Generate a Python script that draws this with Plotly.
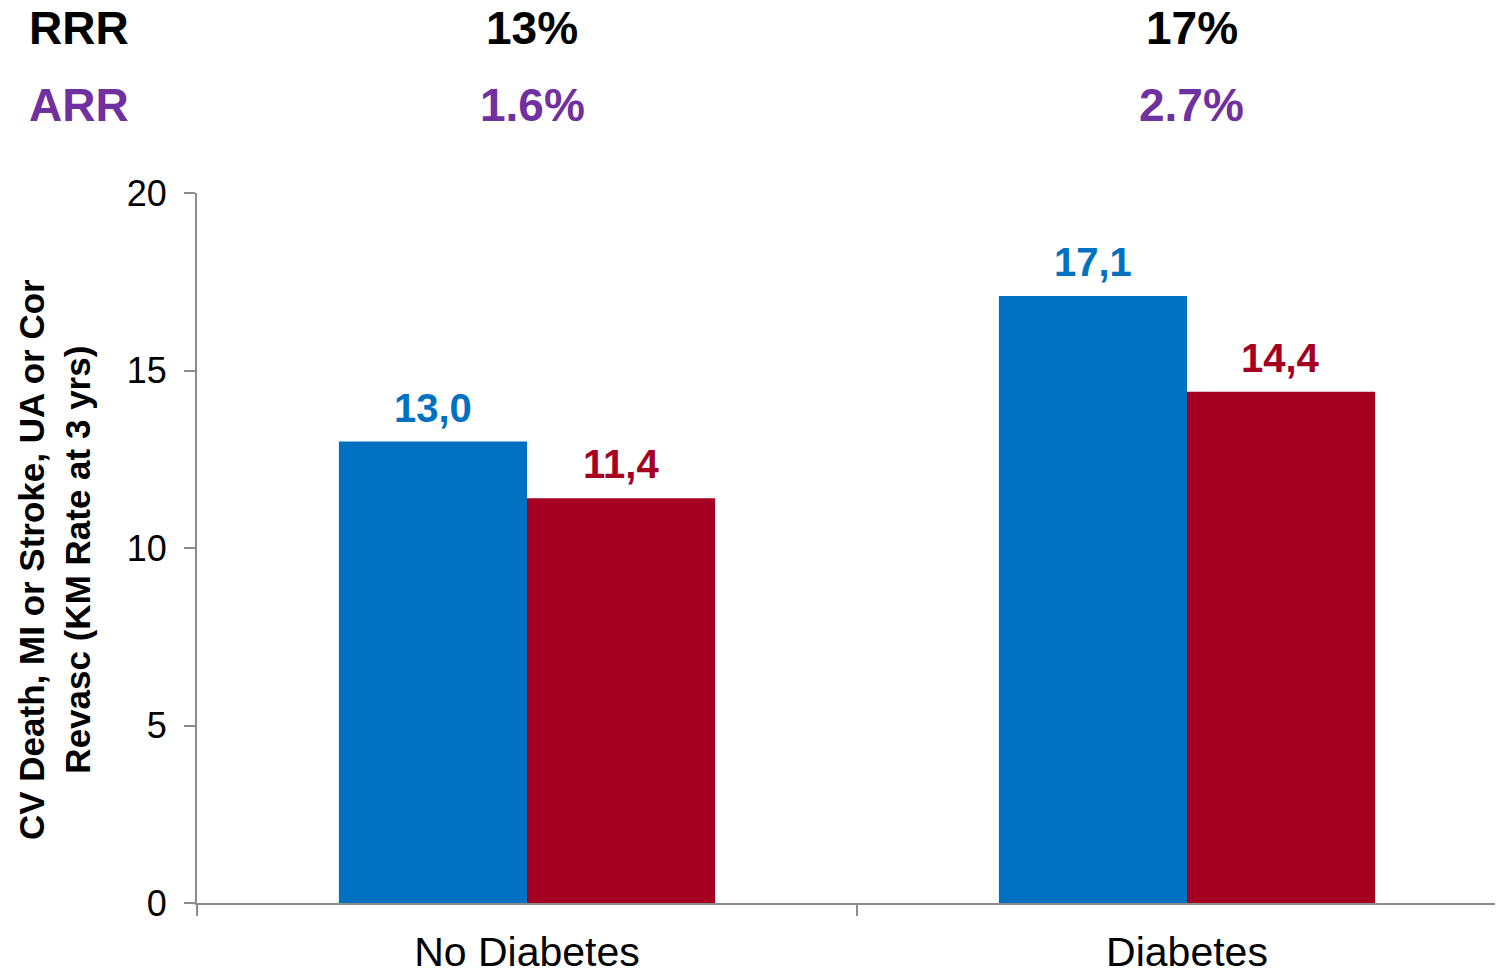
import plotly.graph_objects as go

categories = ["No Diabetes", "Diabetes"]
placebo = [13.0, 17.1]
treated = [11.4, 14.4]
rrr = ["13%", "17%"]
arr = ["1.6%", "2.7%"]
y_ticks = [0, 5, 10, 15, 20]

BLUE = "#0070C0"
RED = "#A50021"
PURPLE = "#7030A0"
GRAY = "#8C8C8C"
NARROW = "Liberation Sans Narrow, Arial Narrow, Liberation Sans, Arial"
SANS = "Liberation Sans, Arial, sans-serif"

fig = go.Figure()
fig.add_trace(go.Bar(x=categories, y=placebo, marker=dict(color=BLUE, line=dict(width=0)),
                     name="Placebo", showlegend=False))
fig.add_trace(go.Bar(x=categories, y=treated, marker=dict(color=RED, line=dict(width=0)),
                     name="Treatment", showlegend=False))

def fmt(v):
    return f"{v:.1f}".replace(".", ",")

for c, v in zip(categories, placebo):
    fig.add_annotation(x=c, y=v, text=fmt(v), showarrow=False, xshift=-94, yanchor="bottom",
                       yshift=10, font=dict(family=NARROW, size=40, color=BLUE, weight="bold"))
for c, v in zip(categories, treated):
    fig.add_annotation(x=c, y=v, text=fmt(v), showarrow=False, xshift=94, yanchor="bottom",
                       yshift=10, font=dict(family=NARROW, size=40, color=RED, weight="bold"))

for c, t in zip(categories, rrr):
    fig.add_annotation(x=c, y=1.232, yref="paper", text=t, showarrow=False, xshift=5,
                       yanchor="middle", font=dict(family=SANS, size=46, color="black", weight="bold"))
for c, t in zip(categories, arr):
    fig.add_annotation(x=c, y=1.124, yref="paper", text=t, showarrow=False, xshift=5,
                       yanchor="middle", font=dict(family=SANS, size=46, color=PURPLE, weight="bold"))

fig.add_annotation(x=0, xref="paper", y=1.232, yref="paper", text="RRR", showarrow=False,
                   xanchor="left", xshift=-170, yanchor="middle",
                   font=dict(family=SANS, size=46, color="black", weight="bold"))
fig.add_annotation(x=0, xref="paper", y=1.124, yref="paper", text="ARR", showarrow=False,
                   xanchor="left", xshift=-170, yanchor="middle",
                   font=dict(family=SANS, size=46, color=PURPLE, weight="bold"))

fig.add_annotation(x=0, xref="paper", y=0.5, yref="paper",
                   text="CV Death, MI or Stroke, UA or Cor<br>Revasc (KM Rate at 3 yrs)",
                   showarrow=False, textangle=-90, xanchor="center", yanchor="middle",
                   xshift=-143, yshift=-12,
                   font=dict(family=SANS, size=35, color="black", weight="bold"))

# page body has an 8px margin, so the figure is sized to end at the window edge
fig.update_layout(
    width=1495, height=958,
    margin=dict(l=189, r=0, t=185, b=63, pad=0),
    paper_bgcolor="white", plot_bgcolor="white",
    barmode="group", bargap=0.43, bargroupgap=0,
    xaxis=dict(type="category", range=[-0.5, 1.4788], showline=True, linecolor=GRAY, linewidth=2,
               ticks="outside", tickson="boundaries", ticklen=11, tickcolor=GRAY, tickwidth=2,
               showgrid=False, zeroline=False, automargin=False,
               tickfont=dict(family=SANS, size=41, color="black"), ticklabelstandoff=12),
    yaxis=dict(range=[0, 20], tickvals=y_ticks, showline=True, linecolor=GRAY, linewidth=2,
               ticks="outside", ticklen=11, tickcolor=GRAY, tickwidth=2,
               showgrid=False, zeroline=False, automargin=False,
               tickfont=dict(family=SANS, size=36, color="black"), ticklabelstandoff=10),
)

fig.write_html("out.html")
